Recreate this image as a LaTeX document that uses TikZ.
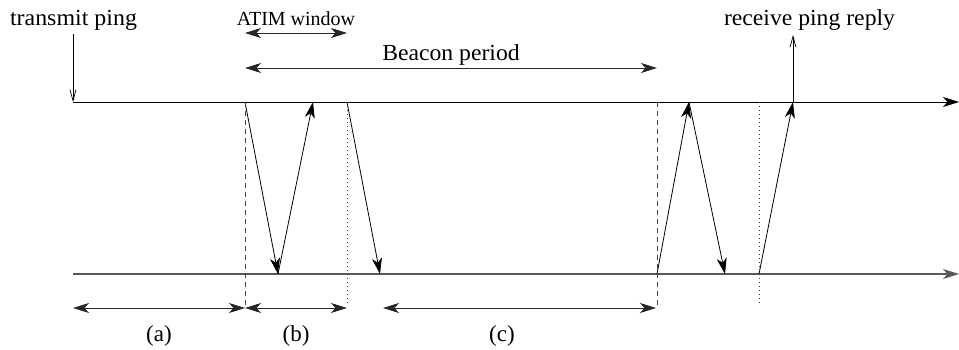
\documentclass[tikz,border=0pt]{standalone}
\usepackage{fontspec}
\setmainfont{Liberation Serif}
\usetikzlibrary{arrows.meta}
\newcommand\wideTxt[2]{\scalebox{#1}[1]{#2}}
\begin{document}
\begin{tikzpicture}[x=1pt,y=-1pt,
  lbl/.style={inner sep=0pt, anchor=base, font=\fontsize{23}{27}\selectfont},
  slbl/.style={inner sep=0pt, anchor=base, font=\fontsize{20}{24}\selectfont},
  tip/.style={Stealth[length=16pt,width=10pt,inset=4.5pt]},
  msg/.style={line width=0.8pt, -{Stealth[length=16pt,width=10pt,inset=4.5pt]}},
  dimarr/.style={line width=0.8pt, black!85, {Stealth[length=16pt,width=10pt,inset=4.5pt]}-{Stealth[length=16pt,width=10pt,inset=4.5pt]}},
  thinarr/.style={line width=0.7pt, -{Straight Barb[length=11pt,width=6pt]}},
  dashv/.style={line width=0.8pt, dash pattern=on 5pt off 4pt, black!75},
  dotv/.style={line width=0.8pt, dash pattern=on 1pt off 3pt, black!75},
]
\useasboundingbox (0,0) rectangle (959,349);
% labels
\node[lbl] (tp) at (73.5,25) {\wideTxt{1.04}{transmit ping}};
\node[slbl] (atim) at (296,25) {\wideTxt{1.0}{ATIM window}};
\node[lbl] (beacon) at (451,60) {\wideTxt{1.03}{Beacon period}};
\node[lbl] (rpr) at (809.5,25) {\wideTxt{1.03}{receive ping reply}};
\node[lbl] (la) at (159,341) {(a)};
\node[lbl] (lb) at (296,341) {(b)};
\node[lbl] (lc) at (502,341) {(c)};
% time lines
\coordinate (T0) at (73,102); \coordinate (T1) at (959,102);
\coordinate (B0) at (73,274); \coordinate (B1) at (959,274);
\draw[msg] (T0) -- (T1);
\draw[msg, black!65, line width=1.1pt] (B0) -- (B1);
% ping arrows
\coordinate (p0) at (73,34);
\coordinate (r0) at (793,102); \coordinate (r1) at (793,35);
\draw[thinarr] (p0) -- (T0);
\draw[thinarr] (r0) -- (r1);
% messages
\coordinate (t1) at (245,102); \coordinate (b1) at (278,274);
\coordinate (t2) at (313,102);
\coordinate (t3) at (347,102); \coordinate (b3) at (380,274);
\coordinate (b4) at (657,274); \coordinate (t4) at (689,102);
\coordinate (b5) at (725,274);
\coordinate (b6) at (759,274); \coordinate (t6) at (793,102);
\draw[msg] (t1) -- (b1);
\draw[msg] (b1) -- (t2);
\draw[msg] (t3) -- (b3);
\draw[msg] (b4) -- (t4);
\draw[msg] (t4) -- (b5);
\draw[msg] (b6) -- (t6);
% vertical markers
\coordinate (d1) at (245,308); \coordinate (d2) at (347,306);
\coordinate (d3) at (657,308); \coordinate (d4) at (759,304);
\coordinate (t5) at (657,102); \coordinate (t7) at (759,102);
\draw[dashv] (t1) -- (d1);
\draw[dotv] (t3) -- (d2);
\draw[dashv] (t5) -- (d3);
\draw[dotv] (t7) -- (d4);
% dimension arrows
\coordinate (a0) at (73,308); \coordinate (a1) at (245,308);
\coordinate (b0) at (347,308);
\coordinate (c0) at (383,308); \coordinate (c1) at (656,308);
\draw[dimarr] (a0) -- (a1);
\draw[dimarr] (a1) -- (b0);
\draw[dimarr] (c0) -- (c1);
\coordinate (w0) at (245,33); \coordinate (w1) at (347,33);
\coordinate (e0) at (245,68); \coordinate (e1) at (657,68);
\draw[dimarr] (w0) -- (w1);
\draw[dimarr] (e0) -- (e1);
\end{tikzpicture}
\end{document}
